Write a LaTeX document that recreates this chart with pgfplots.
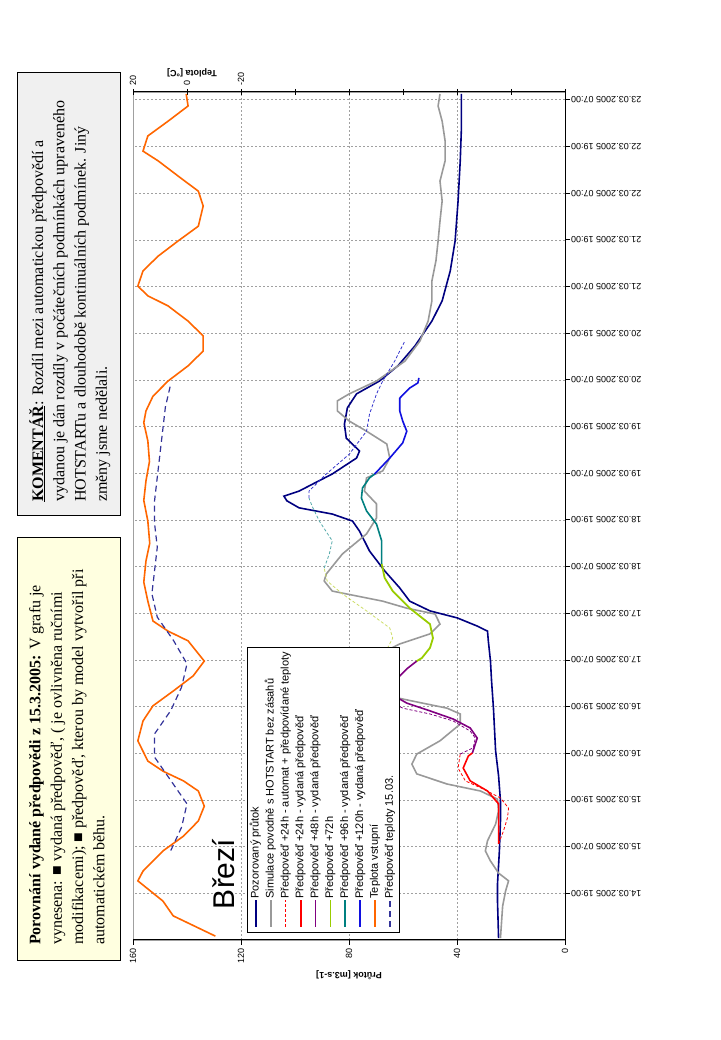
\documentclass[border=0pt]{standalone}
\usepackage{pgfplots}
\pgfplotsset{compat=1.18}
\usepackage{fontspec}
\setmainfont{Liberation Sans}
\newfontfamily\patkove{Liberation Serif}

\definecolor{pozor}{HTML}{000080}
\definecolor{simul}{HTML}{999999}
\definecolor{cerv}{HTML}{FF0000}
\definecolor{fial}{HTML}{800080}
\definecolor{zlut}{HTML}{99CC00}
\definecolor{zlutc}{HTML}{CCDD66}
\definecolor{tyrk}{HTML}{008080}
\definecolor{tyrkc}{HTML}{55AAAA}
\definecolor{modr}{HTML}{1010E0}
\definecolor{modrc}{HTML}{3333CC}
\definecolor{oranz}{HTML}{FF6600}
\definecolor{tepl}{HTML}{333399}
\definecolor{krem}{HTML}{FFFFE0}
\definecolor{sedy}{HTML}{F0F0F0}
\definecolor{mrizka}{HTML}{A0A0A0}

\pgfplotsset{
  spolecne/.style={
    scale only axis, width=848pt, height=432pt,
    at={(100pt,155pt)}, anchor=south west,
    xmin=7, xmax=225,
    /pgf/number format/assume math mode=true,
    tick label style={font=\fontsize{9}{10}\selectfont},
    axis line style={black, line width=1pt},
    tick style={black, line width=0.8pt},
  },
}

\begin{document}
\begin{tikzpicture}
\begin{scope}[transform canvas={rotate=90}]

% textove ramecky nad grafem
\draw[fill=krem, line width=0.6pt] (80pt,600pt) rectangle (503pt,703pt);
\node[anchor=north west, align=left, inner sep=0pt,
  font=\patkove\fontsize{16}{21.3}\selectfont] at (95pt,691pt)
  {\textbf{Porovnání vydané předpovědi z 15.3.2005:} V grafu je\\
   vynesena: ■ vydaná předpověď, ( je ovlivněna ručními\\
   modifikacemi); ■ předpověď, kterou by model vytvořil při\\
   automatickém běhu.};

\draw[fill=sedy, line width=0.6pt] (525pt,600pt) rectangle (968pt,703pt);
\node[anchor=north west, align=left, inner sep=0pt,
  font=\patkove\fontsize{16}{21.3}\selectfont] at (538pt,691pt)
  {\underline{\textbf{KOMENTÁŘ}}: Rozdíl mezi automatickou předpovědí a\\
   vydanou je dán rozdíly v počátečních podmínkách upraveného\\
   HOTSTARTu a dlouhodobě kontinuálních podmínek. Jiný\\
   změny jsme nedělali.};

\begin{axis}[spolecne,
  ymin=0, ymax=160,
  axis x line*=bottom, axis y line*=left,
  axis background/.style={draw=mrizka},
  xtick={19,31,...,223},
  xticklabels={14.03.2005 19:00,15.03.2005 07:00,15.03.2005 19:00,16.03.2005 07:00,
    16.03.2005 19:00,17.03.2005 07:00,17.03.2005 19:00,18.03.2005 07:00,
    18.03.2005 19:00,19.03.2005 07:00,19.03.2005 19:00,20.03.2005 07:00,
    20.03.2005 19:00,21.03.2005 07:00,21.03.2005 19:00,22.03.2005 07:00,
    22.03.2005 19:00,23.03.2005 07:00},
  xticklabel style={rotate=90, anchor=east, inner sep=1pt},
  ytick={0,40,...,160},
  tick align=outside, major tick length=5pt,
  xmajorgrids, ymajorgrids,
  grid style={mrizka, dash pattern=on 2pt off 2pt, line width=0.6pt},
  ylabel={Průtok [m3.s-1]},
  ylabel style={font=\fontsize{9}{10}\selectfont\bfseries},
]
% Pozorovany prutok
\addplot[pozor, line width=1.6pt] coordinates {
(7.5,24.6) (17,25) (21.4,25) (29.9,24.3) (37.6,23.9) (42.7,23.9) (49.2,24.6)
(55.6,25.7) (66.6,26.5) (73.6,27.2) (78.7,27.6) (83.9,28.4) (86.4,28.7)
(87.7,32.5) (89.8,39.9) (91.6,50) (94.1,57.5) (97.5,61.2) (101.9,66.8)
(107,72.4) (112.1,76.1) (114.7,78.7) (116.5,86.2) (118.1,98.5) (119.9,103)
(121.1,104.1) (122.4,98.5) (126.8,86.2) (130.9,77.2) (132.7,76.1) (136,81)
(139.6,81.7) (143.8,80.6) (147.4,77.2) (150.7,68.7) (154.6,61.9) (159.7,55.6)
(166.1,49.3) (171.3,45.5) (179,42.5) (186.7,40.7) (197,39.6) (207.3,38.8)
(215,38.4) (224.5,38.4)};
% Simulace
\addplot[simul, line width=1.6pt] coordinates {
(7.5,23.9) (15.7,23.1) (19.6,22) (22.2,20.9) (24.2,24.6) (27.3,27.6) (29.9,29.5)
(32.5,28.7) (36.8,25.7) (40.2,24.6) (43.2,25) (45.3,31.3) (47.1,43.7) (49.7,54.9)
(52.2,56.7) (54.8,54.9) (58.2,46.3) (62.5,38.8) (65.1,38.8) (66.6,43.7)
(68.4,56.3) (70.2,68.7) (72.5,75) (75.6,76) (78,73) (80.5,68.7) (83.1,61.2)
(85.7,50) (88.2,46.3) (90.8,48.1) (92.3,58.6) (94.1,67.5) (96.7,86.2)
(99.3,89.2) (101.1,88.4) (106.2,82.5) (111.4,73.5) (115.5,69.8) (119.1,69.8)
(122.4,74.3) (125.8,73.5) (127.6,67.5) (130.9,64.9) (134.5,66) (137.8,73.5)
(140.4,79.9) (143,84.3) (145.6,84.3) (147.4,79.9) (150.7,69.8) (155.8,59.3)
(161,53.7) (166.1,50.7) (171.3,49.3) (176.4,49.3) (181.6,47.8) (186.7,47)
(191.8,46.3) (197,45.5) (202.1,46.3) (207.3,44.4) (212.4,44.4) (217.5,45.5)
(221.4,47) (224.5,46.3)};
% +24h automat
\addplot[cerv, line width=0.8pt, dash pattern=on 3pt off 2pt] coordinates {
(31.7,24.6) (35,22.8) (38.4,21.3) (40.9,20.9) (43.5,23.9) (45.8,30.2)
(47.9,36.9) (51.2,39.6) (54.8,38.8)};
% +48h automat
\addplot[fial, line width=0.8pt, dash pattern=on 3pt off 2pt] coordinates {
(54.8,38.8) (56.4,34) (58.9,33.2) (60.7,35.1) (63.3,41.4) (65.1,50)
(66.6,60.1) (67.7,63) (70,66)};
% +72h automat
\addplot[zlutc, line width=0.8pt, dash pattern=on 3pt off 2pt] coordinates {
(79,62) (82.1,65.7) (84.6,63.8) (87.2,64.9) (91.6,73.5) (96,82.5)
(99.3,88.1) (102.6,89.2)};
% +96h automat
\addplot[tyrkc, line width=0.8pt, dash pattern=on 3pt off 2pt] coordinates {
(102.6,89.2) (106.2,87.3) (109.6,86.2) (114.7,91) (118.6,93.7) (120.6,94.8)};
% +120h automat
\addplot[modrc, line width=0.8pt, dash pattern=on 3pt off 2pt] coordinates {
(120.6,94.8) (122.4,94.8) (126.8,88.4) (131.9,79.9) (137.8,73.5) (142.2,72.4)
(147.4,69.8) (150.7,67.5) (155.8,63.1) (161,59.3)};
% +24h vydana
\addplot[cerv, line width=1.6pt] coordinates {
(31.7,24.6) (37.6,24.6) (42,24.6) (45.3,28.7) (47.9,35.1) (51.2,37.7)
(54.3,35.8) (55.1,34.3)};
% +48h vydana
\addplot[fial, line width=1.6pt] coordinates {
(55.1,34.3) (58.9,32.5) (61.5,35.1) (63.8,41.4) (65.9,50) (67.9,58.6)
(69.2,61.9) (71.8,66) (74.4,61.9) (76.7,58.6) (78.7,54.9)};
% +72h
\addplot[zlut, line width=1.8pt] coordinates {
(78.7,54.9) (79.5,53) (82.1,50) (84.6,48.9) (88.2,50) (92.3,57.5) (96.7,63.8)
(100.1,66.8) (103.7,67.9)};
% +96h vydana
\addplot[tyrk, line width=1.6pt] coordinates {
(103.7,67.9) (109.6,67.9) (113.9,69.8) (117.3,73.5) (120.6,75.4) (123.2,75)
(125.8,72.4) (126.8,70.5)};
% +120h vydana
\addplot[modr, line width=1.6pt] coordinates {
(126.8,70.5) (127.6,69.4) (130.9,64.9) (134.8,60.1) (137.8,58.6) (140.4,60.1)
(143,61.2) (146.3,61.2) (148.9,57.5) (150.2,54.5) (151.5,54.1)};
\end{axis}

\begin{axis}[spolecne,
  ymin=-140, ymax=20,
  axis x line=none, axis y line*=right,
  ytick={-140,-120,...,20},
  yticklabels={,,,,,,-20,0,20},
  tick align=center, major tick length=6pt,
  legend style={at={(axis description cs:0.0094,0.736)}, anchor=north west,
    draw=black, fill=white,
    font=\fontsize{11}{12}\selectfont, row sep=3.4pt,
    inner xsep=4pt, inner ysep=3pt,
    nodes={inner sep=0.5pt, text height=8pt, text depth=2.5pt}},
  legend cell align=left,
  legend image code/.code={\draw[#1] (0pt,0pt) -- (27pt,0pt);},
]
\addlegendimage{pozor, line width=1.8pt}
\addlegendentry{Pozorovaný průtok}
\addlegendimage{simul, line width=1.8pt}
\addlegendentry{Simulace povodně s HOTSTART bez zásahů}
\addlegendimage{cerv, line width=1pt, dash pattern=on 3pt off 2pt}
\addlegendentry{Předpověď +24h - automat + předpovídané teploty}
\addlegendimage{cerv, line width=1.8pt}
\addlegendentry{Předpověď +24h - vydaná předpověď}
\addlegendimage{fial, line width=1.8pt}
\addlegendentry{Předpověď +48h - vydaná předpověď}
\addlegendimage{zlut, line width=1.8pt}
\addlegendentry{Předpověď +72h}
\addlegendimage{tyrk, line width=1.8pt}
\addlegendentry{Předpověď +96h  - vydaná předpověď}
\addlegendimage{modr, line width=1.8pt}
\addlegendentry{Předpověď +120h  - vydaná předpověď}
% Teplota vstupni
\addplot[oranz, line width=1.6pt] coordinates {
(8,-10.5) (13.2,5.1) (17,8.9) (22.2,18.2) (24.7,16.3) (29.9,8.9) (33.7,1.3)
(37.6,-4.2) (41.4,-6.4) (45.3,-4.2) (47.9,1.3) (50.4,8.9) (53,14.5)
(58.2,18.2) (63.3,16.3) (67.2,12.6) (71,5.1) (74.9,-2.3) (78.7,-6.4)
(83.9,-0.4) (86.4,7) (89,12.6) (94.1,14.5) (99,16) (104.4,15.2) (109,13.8)
(114.7,14.5) (120,16) (125,15.2) (130,13.9) (135.3,14.5) (140,16)
(143,15.2) (146.8,12.6) (150.7,7) (154.6,-0.4) (158.4,-6) (162.3,-6)
(166.1,-0.4) (170,7) (172.6,14.5) (175.1,18.2) (179,16.3) (182.8,10.7)
(186.7,3.3) (190.5,-4.2) (195.7,-6) (199.5,-4.2) (203.4,3.3) (207.3,10.7)
(209.8,16.3) (213.7,14.5) (217.5,7) (221.4,-0.4) (224.5,0.3)};
\addlegendentry{Teplota vstupní}
% Predpoved teploty
\addplot[tepl, line width=1.2pt, dash pattern=on 6pt off 4pt] coordinates {
(30,6) (36,2) (42,0) (48,6) (54,12) (60,12) (66,6) (72,2) (78,0) (84,5)
(90,11) (96,13) (102,12) (108,11) (114,12) (120,12) (126,11) (132,10)
(138,9) (144,8) (150,6)};
\addlegendentry{Předpověď teploty 15.03.}
\end{axis}

\node[font=\fontsize{30}{36}\selectfont] at (166pt,496pt) {Březí};
\node[rotate=90, font=\fontsize{9}{10}\selectfont\bfseries] at (967pt,528pt) {Teplota [°C]};
\end{scope}
\pgfresetboundingbox
\path[use as bounding box] (-720pt,0pt) rectangle (0pt,1040pt);
\end{tikzpicture}
\end{document}
